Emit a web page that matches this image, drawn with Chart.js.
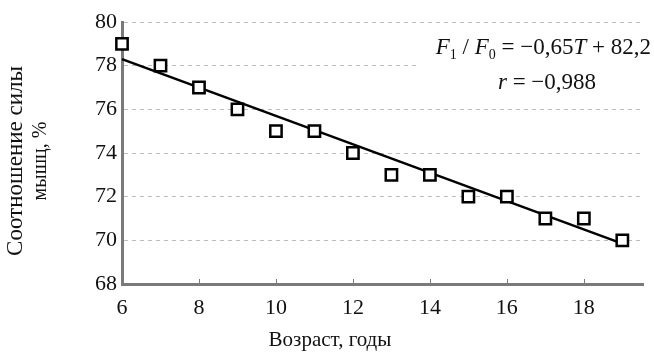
<!DOCTYPE html>
<html>
<head>
<meta charset="utf-8">
<script src="https://cdn.jsdelivr.net/npm/chart.js@4/dist/chart.umd.min.js"></script>
<style>
  html, body { margin: 0; padding: 0; background: #fff; }
  #wrap { width: 654px; height: 355px; }
</style>
</head>
<body>
<div id="wrap"><canvas id="chart"></canvas></div>
<script>
// Возраст (лет) и соотношение силы мышц (%)
const ages = [6, 7, 8, 9, 10, 11, 12, 13, 14, 15, 16, 17, 18, 19];
const ratio = [79, 78, 77, 76, 75, 75, 74, 73, 73, 72, 72, 71, 71, 70];
// линия регрессии F1/F0 = -0,65T + 82,2
const trendAges = [6, 19];
const trendVals = [78.3, 69.85];
const xTicks = [6, 8, 10, 12, 14, 16, 18];
const yTicks = [68, 70, 72, 74, 76, 78, 80];

const serif = '"Liberation Serif", "Times New Roman", serif';
const axisGrey = '#7a7a7a';

// подписи осей, засечки и формула
const extras = {
  id: 'extras',
  beforeDatasetsDraw(chart) {
    const { ctx, scales: { x, y } } = chart;
    ctx.save();
    // засечки по оси X внутрь
    ctx.strokeStyle = axisGrey;
    ctx.lineWidth = 1;
    xTicks.slice(1).forEach(v => {
      const px = Math.round(x.getPixelForValue(v)) + 0.5;
      ctx.beginPath();
      ctx.moveTo(px, y.bottom);
      ctx.lineTo(px, y.bottom - 5);
      ctx.stroke();
    });
    // белая подложка под формулой
    ctx.fillStyle = '#fff';
    ctx.fillRect(418, 30, chart.width - 418, 64);
    ctx.restore();
  },
  afterDraw(chart) {
    const { ctx, scales: { x, y } } = chart;
    ctx.save();
    ctx.fillStyle = '#111';
    // ось Y
    ctx.translate(16, 161);
    ctx.rotate(-Math.PI / 2);
    ctx.textAlign = 'center';
    ctx.textBaseline = 'middle';
    ctx.font = '23px ' + serif;
    ctx.fillText('Соотношение силы', 0, 0);
    ctx.font = '20px ' + serif;
    ctx.fillText('мышц, %', 0, 25);
    ctx.restore();

    ctx.save();
    ctx.fillStyle = '#111';
    ctx.textAlign = 'center';
    ctx.textBaseline = 'middle';
    ctx.font = '21px ' + serif;
    ctx.fillText('Возраст, годы', 330, 340);

    // формула
    const parts = [
      ['F', 'italic 23px', 0], ['1', '14px', 5], [' / ', '23px', 0],
      ['F', 'italic 23px', 0], ['0', '14px', 5], [' = −0,65', '23px', 0],
      ['T', 'italic 23px', 0], [' + 82,2', '23px', 0]
    ];
    ctx.textAlign = 'left';
    ctx.textBaseline = 'alphabetic';
    let w = 0;
    parts.forEach(p => { ctx.font = p[1] + ' ' + serif; w += ctx.measureText(p[0]).width; });
    let cx = 651 - w;
    parts.forEach(p => {
      ctx.font = p[1] + ' ' + serif;
      ctx.fillText(p[0], cx, 54 + p[2]);
      cx += ctx.measureText(p[0]).width;
    });
    const parts2 = [['r', 'italic 23px'], [' = −0,988', '23px']];
    w = 0;
    parts2.forEach(p => { ctx.font = p[1] + ' ' + serif; w += ctx.measureText(p[0]).width; });
    cx = 547 - w / 2;
    parts2.forEach(p => {
      ctx.font = p[1] + ' ' + serif;
      ctx.fillText(p[0], cx, 89);
      cx += ctx.measureText(p[0]).width;
    });
    ctx.restore();
  }
};

new Chart(document.getElementById('chart'), {
  type: 'scatter',
  data: {
    datasets: [
      {
        label: 'Соотношение силы',
        data: ages.map((a, i) => ({ x: a, y: ratio[i] })),
        pointStyle: 'rect',
        pointRadius: 8,
        pointBorderWidth: 2.5,
        pointBorderColor: '#000',
        pointBackgroundColor: '#fff',
        clip: false,
        order: 0
      },
      {
        label: 'Тренд',
        type: 'line',
        data: trendAges.map((a, i) => ({ x: a, y: trendVals[i] })),
        borderColor: '#000',
        borderWidth: 2.5,
        pointRadius: 0,
        fill: false,
        clip: false,
        order: 1
      }
    ]
  },
  options: {
    responsive: true,
    maintainAspectRatio: false,
    animation: false,
    layout: { padding: { left: 0, top: 22, right: 4, bottom: 0 } },
    plugins: { legend: { display: false }, tooltip: { enabled: false } },
    scales: {
      x: {
        type: 'linear',
        min: 6,
        max: 19.55,
        afterFit: s => { s.height = 71; },
        afterBuildTicks: s => { s.ticks = xTicks.map(v => ({ value: v })); },
        grid: { display: false },
        border: { color: axisGrey, width: 3 },
        ticks: { color: '#111', font: { family: serif, size: 22 }, padding: 3 }
      },
      y: {
        min: 68,
        max: 80,
        afterFit: s => { s.width = 122; },
        afterBuildTicks: s => { s.ticks = yTicks.map(v => ({ value: v })); },
        grid: { color: '#bdbdbd', lineWidth: 1, drawTicks: false },
        border: { color: axisGrey, width: 3, dash: [4, 4] },
        ticks: { color: '#111', font: { family: serif, size: 22 }, padding: 5 }
      }
    }
  },
  plugins: [extras]
});
</script>
</body>
</html>
